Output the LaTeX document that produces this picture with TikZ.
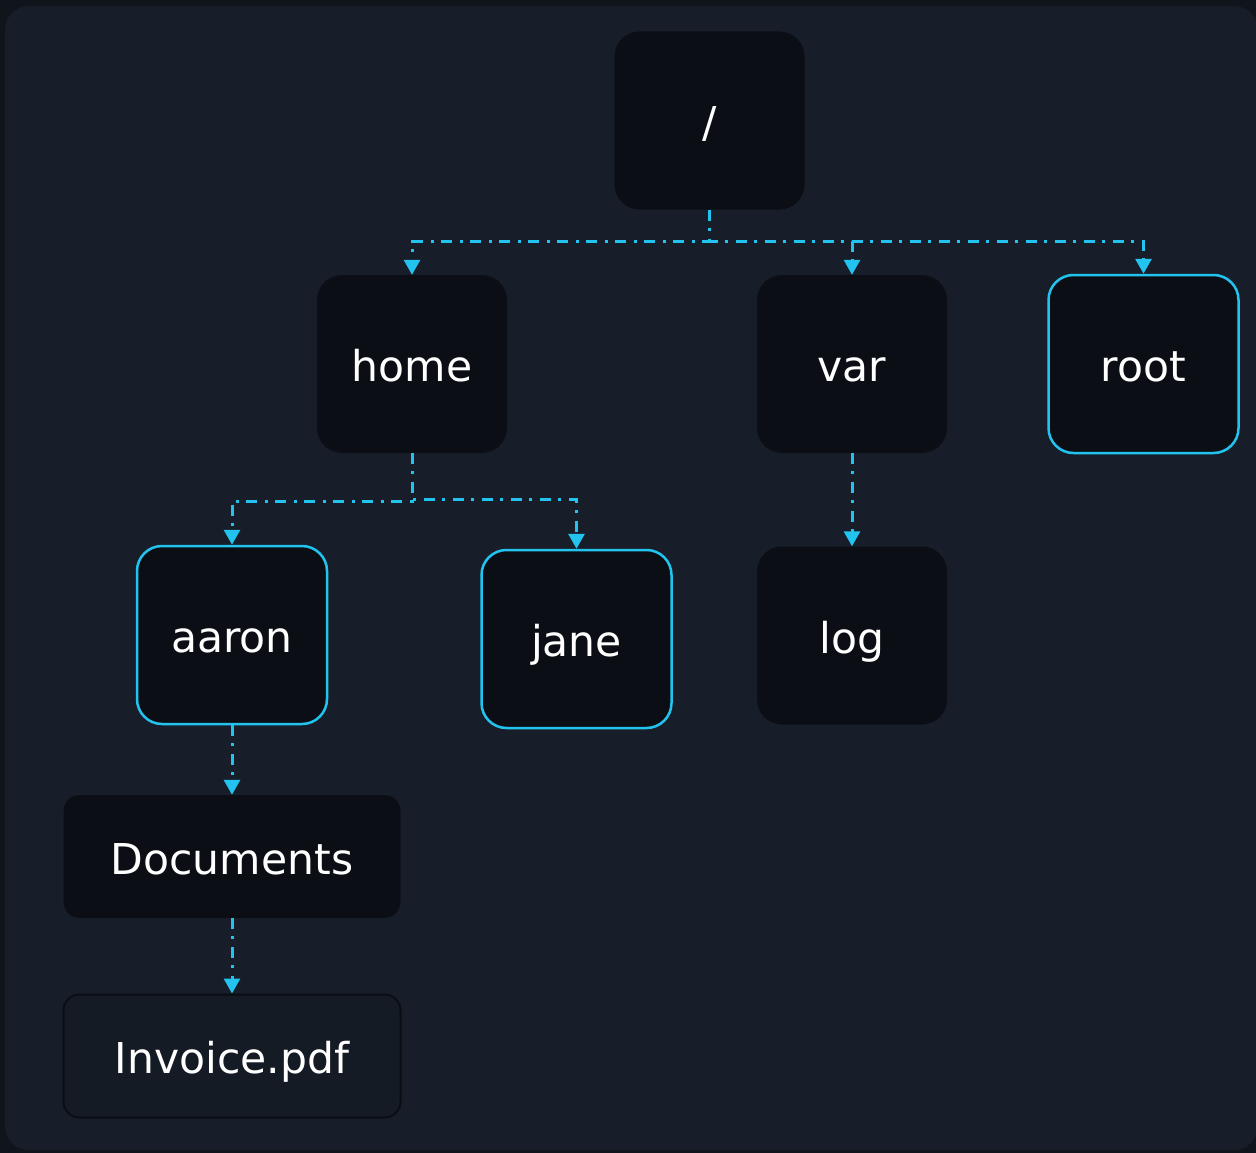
\documentclass[tikz,border=0pt]{standalone}
\usepackage{fontspec}
\setmainfont{DejaVu Sans}
\usetikzlibrary{arrows.meta}
\definecolor{pagebg}{HTML}{10151B}
\definecolor{panelbg}{HTML}{171E29}
\definecolor{boxfill}{HTML}{0B0F15}
\definecolor{linkcol}{HTML}{22C3EE}
\definecolor{filefill}{HTML}{151B25}
\definecolor{fileedge}{HTML}{0A0D12}

\begin{document}
\begin{tikzpicture}[x=1pt,y=-1pt,
  dirbox/.style={rectangle, rounded corners=25pt, fill=boxfill, text=white,
    minimum width=190pt, minimum height=178pt, inner sep=0pt,
    text height=35pt, text depth=0pt,
    font=\fontsize{42.5}{50}\selectfont},
  userbox/.style={dirbox, draw=linkcol, line width=2.5pt},
  widebox/.style={dirbox, rounded corners=16pt, minimum width=337pt, minimum height=123pt},
  filebox/.style={widebox, fill=filefill, draw=fileedge, line width=2pt},
  link/.style={draw=linkcol, line width=3pt,
    dash pattern=on 11pt off 7pt on 3pt off 8pt,
    -{Triangle[width=16pt,length=15pt]}}]

  \useasboundingbox (0,0) rectangle (1256,1153);
  % Background
  \fill[pagebg] (0,0) rectangle (1256,1153);
  \fill[panelbg, rounded corners=24pt] (5,6) rectangle (1258,1150);

  % Top level
  \node[dirbox] (slash) at (709.5,120.5) {/};
  \node[dirbox] (home) at (412,364) {home};
  \node[dirbox] (var) at (852,364) {var};
  \node[userbox] (root) at (1143.5,364) {root};
  % Second level
  \node[userbox] (aaron) at (232,635) {aaron};
  \node[userbox] (jane) at (576.5,639) {jane};
  \node[dirbox] (log) at (852,635.5) {log};
  % Files
  \node[widebox] (docs) at (232,856.5) {Documents};
  \node[filebox] (invoice) at (232,1056) {Invoice.pdf};

  % Links
  \draw[link] (slash.south) -- ++(0,32) -| (home.north);
  \draw[link] (slash.south) -- ++(0,32) -| (var.north);
  \draw[link] (slash.south) -- ++(0,32) -| (root.north);
  \draw[link] (home.south) -- ++(0,48) -| (aaron.north);
  \draw[link] (home.south) -- ++(0,46) -| (jane.north);
  \draw[link] (var.south) -- (log.north);
  \draw[link] (aaron.south) -- (docs.north);
  \draw[link] (docs.south) -- (invoice.north);
\end{tikzpicture}
\end{document}
